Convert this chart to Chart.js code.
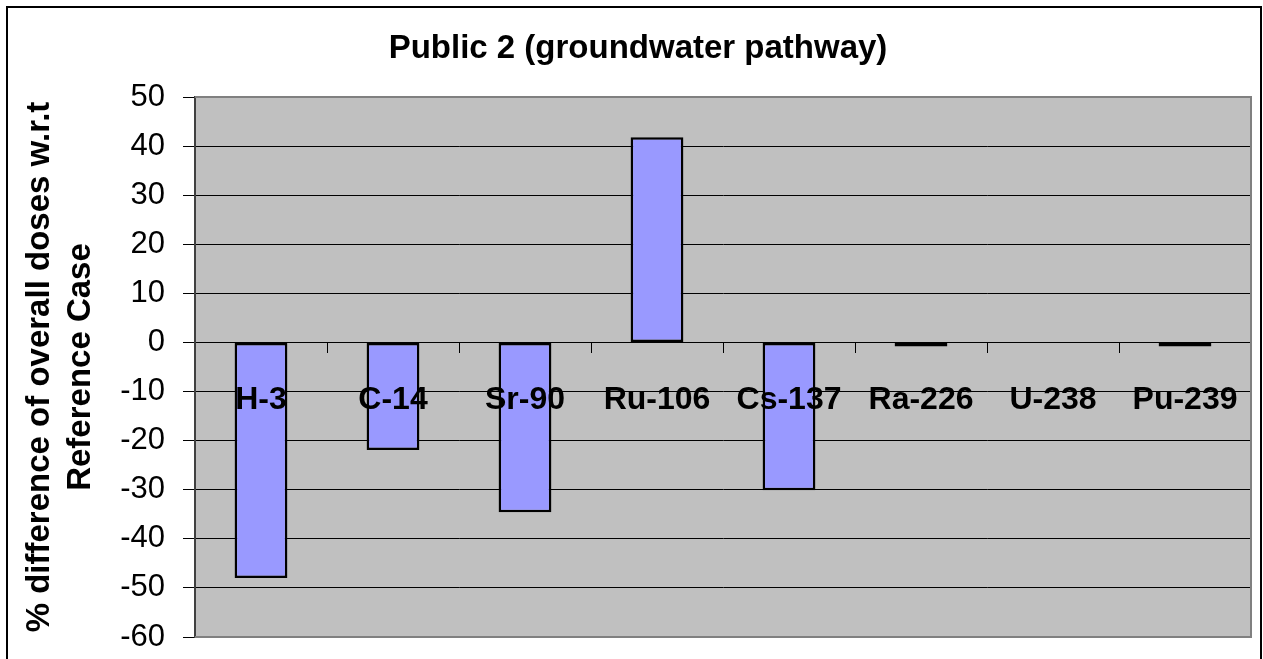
<!DOCTYPE html>
<html>
<head>
<meta charset="utf-8">
<title>Public 2 (groundwater pathway)</title>
<script src="https://cdn.jsdelivr.net/npm/chart.js@4/dist/chart.umd.min.js"></script>
<style>
  html, body { margin: 0; padding: 0; background: #ffffff; }
  #wrap { width: 1263px; height: 659px; position: relative; }
</style>
</head>
<body>
<div id="wrap"><canvas id="chart" width="1263" height="659"></canvas></div>
<script>
// Radionuclides and their % dose difference relative to the Reference Case
const categories = ['H-3', 'C-14', 'Sr-90', 'Ru-106', 'Cs-137', 'Ra-226', 'U-238', 'Pu-239'];
const doseDifference = [-48, -21.9, -34.6, 41.8, -30.1, -0.8, 0, -0.8];
const yTicks = [50, 40, 30, 20, 10, 0, -10, -20, -30, -40, -50, -60];

const chartTitle = 'Public 2 (groundwater pathway)';
const yTitle = ['% difference of overall doses w.r.t', 'Reference Case'];

const FONT = '"Liberation Sans", Arial, Helvetica, sans-serif';

// Frame, grey plot background, title and category labels
const decor = {
  id: 'decor',
  beforeDraw(chart) {
    const { ctx, chartArea: a } = chart;
    ctx.save();
    ctx.fillStyle = '#ffffff';
    ctx.fillRect(0, 0, chart.width, chart.height);
    ctx.strokeStyle = '#000000';
    ctx.lineWidth = 2;
    ctx.strokeRect(7, 7, 1254, 700);
    ctx.fillStyle = '#c0c0c0';
    ctx.fillRect(a.left, a.top, a.right - a.left, a.bottom - a.top);
    ctx.fillStyle = '#000000';
    ctx.font = 'bold 33px ' + FONT;
    ctx.textAlign = 'center';
    ctx.textBaseline = 'alphabetic';
    ctx.fillText(chartTitle, 638, 58);
    ctx.restore();
  },
  afterDatasetsDraw(chart) {
    const { ctx, chartArea: a } = chart;
    ctx.save();
    // plot border (right, top, bottom)
    ctx.strokeStyle = '#808080';
    ctx.lineWidth = 2;
    ctx.beginPath();
    ctx.moveTo(a.left, a.top);
    ctx.lineTo(a.right, a.top);
    ctx.lineTo(a.right, a.bottom);
    ctx.lineTo(a.left, a.bottom);
    ctx.stroke();
    // category labels sit just below the zero line
    const xs = chart.scales.x, ys = chart.scales.y;
    const base = ys.getPixelForValue(0) + 67;
    ctx.fillStyle = '#000000';
    ctx.font = 'bold 32px ' + FONT;
    ctx.textAlign = 'center';
    ctx.textBaseline = 'alphabetic';
    categories.forEach((c, i) => ctx.fillText(c, xs.getPixelForValue(i), base));
    ctx.restore();
  }
};

new Chart(document.getElementById('chart'), {
  type: 'bar',
  data: {
    labels: categories,
    datasets: [{
      data: doseDifference,
      backgroundColor: '#9999ff',
      borderColor: '#000000',
      borderWidth: 2.5,
      borderSkipped: false,
      categoryPercentage: 1.0,
      barPercentage: 0.4
    }]
  },
  options: {
    responsive: false,
    animation: false,
    events: [],
    layout: { padding: { left: 0, top: 97, right: 12, bottom: 22 } },
    plugins: {
      legend: { display: false },
      title: { display: false },
      tooltip: { enabled: false }
    },
    scales: {
      x: {
        position: { y: 0 },
        offset: true,
        afterFit(scale) {
          scale.height = 0;
          scale.paddingTop = scale.paddingBottom = scale.paddingLeft = scale.paddingRight = 0;
        },
        border: { display: false },
        grid: {
          offset: true,
          drawOnChartArea: false,
          drawTicks: true,
          tickLength: 11,
          color: '#000000',
          lineWidth: 1
        },
        ticks: { display: false }
      },
      y: {
        min: -60,
        max: 50,
        afterBuildTicks(scale) { scale.ticks = yTicks.map(v => ({ value: v })); },
        afterFit(scale) {
          scale.width = 195;
          scale.paddingTop = scale.paddingBottom = 0;
        },
        border: { display: true, color: '#404040', width: 2 },
        grid: {
          color: ctx => (ctx.tick && (ctx.tick.value === 50 || ctx.tick.value === -60)) ? '#808080' : '#000000',
          tickColor: '#000000',
          lineWidth: 1,
          tickLength: 12
        },
        ticks: {
          color: '#000000',
          font: { family: FONT, size: 31 },
          padding: 18
        },
        title: {
          display: true,
          text: yTitle,
          color: '#000000',
          font: { family: FONT, size: 33, weight: 'bold', lineHeight: 1.25 },
          padding: { top: 19, bottom: 0 }
        }
      }
    }
  },
  plugins: [decor]
});
</script>
</body>
</html>
